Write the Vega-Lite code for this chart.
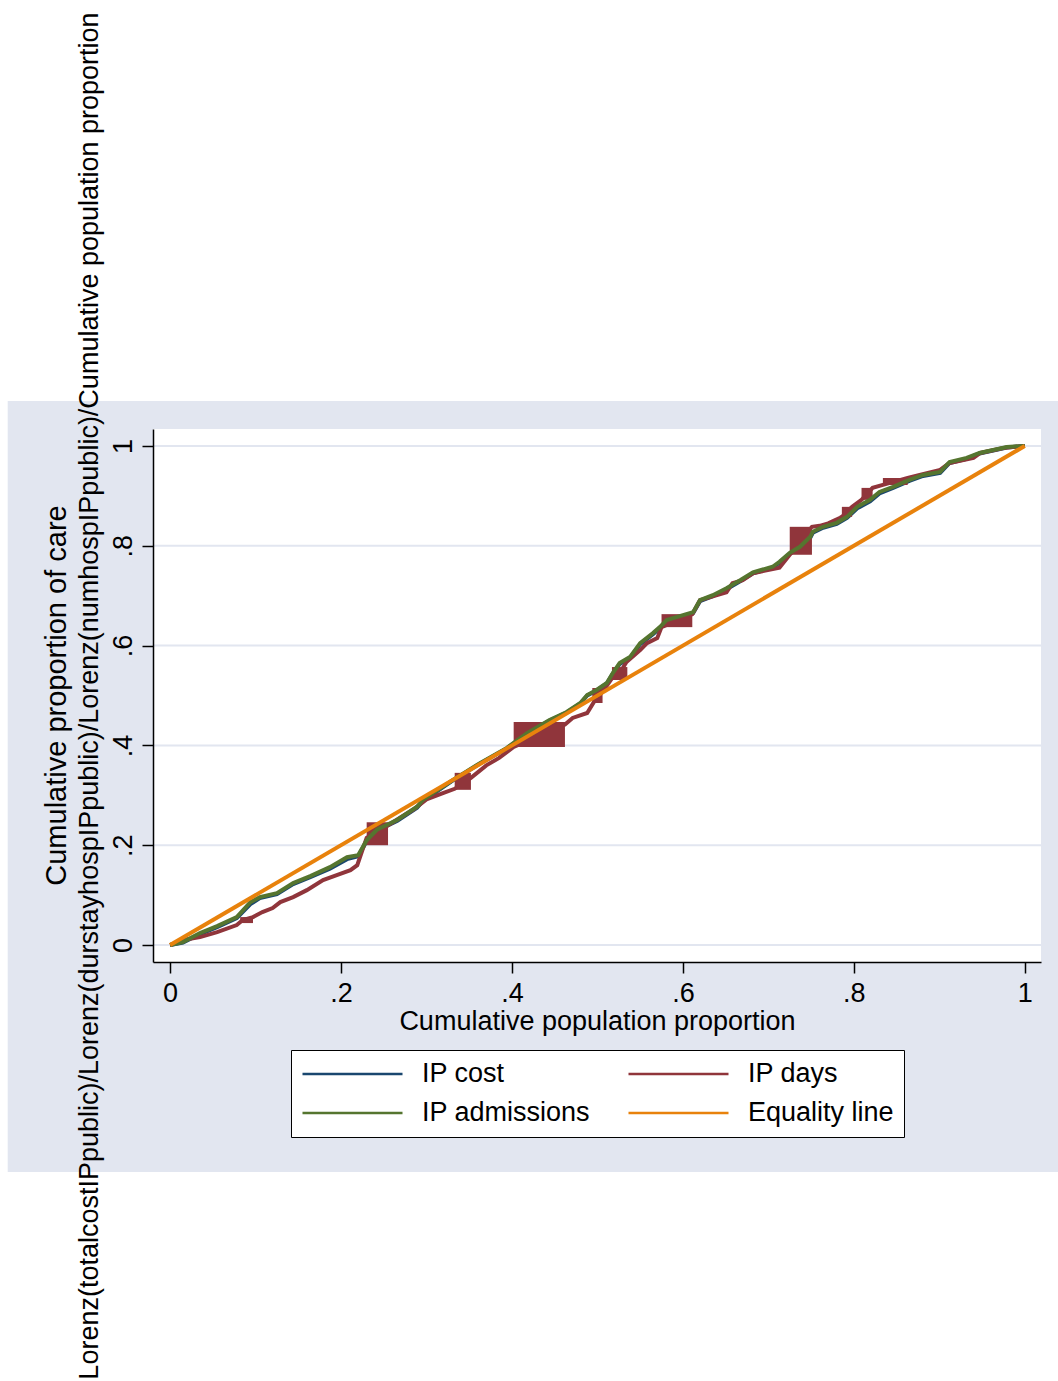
{
  "$schema": "https://vega.github.io/schema/vega-lite/v6.json",
  "width": 888,
  "height": 533,
  "autosize": {"type": "none"},
  "padding": {"left": 153, "top": 429, "right": 17, "bottom": 419},
  "background": "white",
  "config": {"view": {"stroke": null, "fill": "white"}, "font": "Liberation Sans"},
  "title": {"text": "Cumulative proportion of care", "orient": "left", "anchor": "middle", "frame": "group", "fontSize": 29, "font": "Liberation Sans", "fontWeight": "normal", "color": "black", "baseline": "alphabetic", "offset": -87},
  "datasets": {
    "curves": [
      {"series": "IP cost", "x": 0, "y": 0}, {"series": "IP cost", "x": 0.015, "y": 0.005}, {"series": "IP cost", "x": 0.035, "y": 0.022}, {"series": "IP cost", "x": 0.055, "y": 0.036}, {"series": "IP cost", "x": 0.078, "y": 0.054}, {"series": "IP cost", "x": 0.094, "y": 0.082}, {"series": "IP cost", "x": 0.105, "y": 0.094}, {"series": "IP cost", "x": 0.125, "y": 0.102}, {"series": "IP cost", "x": 0.144, "y": 0.122}, {"series": "IP cost", "x": 0.164, "y": 0.136}, {"series": "IP cost", "x": 0.187, "y": 0.153}, {"series": "IP cost", "x": 0.207, "y": 0.172}, {"series": "IP cost", "x": 0.22, "y": 0.178}, {"series": "IP cost", "x": 0.23, "y": 0.208}, {"series": "IP cost", "x": 0.242, "y": 0.229}, {"series": "IP cost", "x": 0.266, "y": 0.249}, {"series": "IP cost", "x": 0.289, "y": 0.275}, {"series": "IP cost", "x": 0.296, "y": 0.289}, {"series": "IP cost", "x": 0.331, "y": 0.33}, {"series": "IP cost", "x": 0.363, "y": 0.364}, {"series": "IP cost", "x": 0.394, "y": 0.394}, {"series": "IP cost", "x": 0.418, "y": 0.424}, {"series": "IP cost", "x": 0.444, "y": 0.45}, {"series": "IP cost", "x": 0.464, "y": 0.466}, {"series": "IP cost", "x": 0.48, "y": 0.484}, {"series": "IP cost", "x": 0.488, "y": 0.5}, {"series": "IP cost", "x": 0.499, "y": 0.51}, {"series": "IP cost", "x": 0.511, "y": 0.524}, {"series": "IP cost", "x": 0.518, "y": 0.544}, {"series": "IP cost", "x": 0.526, "y": 0.563}, {"series": "IP cost", "x": 0.538, "y": 0.575}, {"series": "IP cost", "x": 0.55, "y": 0.603}, {"series": "IP cost", "x": 0.565, "y": 0.623}, {"series": "IP cost", "x": 0.573, "y": 0.635}, {"series": "IP cost", "x": 0.581, "y": 0.649}, {"series": "IP cost", "x": 0.612, "y": 0.665}, {"series": "IP cost", "x": 0.62, "y": 0.689}, {"series": "IP cost", "x": 0.635, "y": 0.699}, {"series": "IP cost", "x": 0.651, "y": 0.713}, {"series": "IP cost", "x": 0.667, "y": 0.729}, {"series": "IP cost", "x": 0.682, "y": 0.745}, {"series": "IP cost", "x": 0.705, "y": 0.756}, {"series": "IP cost", "x": 0.713, "y": 0.766}, {"series": "IP cost", "x": 0.725, "y": 0.784}, {"series": "IP cost", "x": 0.737, "y": 0.796}, {"series": "IP cost", "x": 0.749, "y": 0.816}, {"series": "IP cost", "x": 0.752, "y": 0.826}, {"series": "IP cost", "x": 0.764, "y": 0.836}, {"series": "IP cost", "x": 0.78, "y": 0.844}, {"series": "IP cost", "x": 0.792, "y": 0.856}, {"series": "IP cost", "x": 0.804, "y": 0.875}, {"series": "IP cost", "x": 0.819, "y": 0.889}, {"series": "IP cost", "x": 0.83, "y": 0.905}, {"series": "IP cost", "x": 0.846, "y": 0.916}, {"series": "IP cost", "x": 0.865, "y": 0.93}, {"series": "IP cost", "x": 0.881, "y": 0.94}, {"series": "IP cost", "x": 0.901, "y": 0.946}, {"series": "IP cost", "x": 0.912, "y": 0.966}, {"series": "IP cost", "x": 0.932, "y": 0.974}, {"series": "IP cost", "x": 0.947, "y": 0.985}, {"series": "IP cost", "x": 0.963, "y": 0.991}, {"series": "IP cost", "x": 0.979, "y": 0.997}, {"series": "IP cost", "x": 1, "y": 1},

      {"series": "IP days", "x": 0, "y": 0}, {"series": "IP days", "x": 0.015, "y": 0.01}, {"series": "IP days", "x": 0.035, "y": 0.016}, {"series": "IP days", "x": 0.055, "y": 0.026}, {"series": "IP days", "x": 0.078, "y": 0.04}, {"series": "IP days", "x": 0.085, "y": 0.05}, {"series": "IP days", "x": 0.097, "y": 0.056}, {"series": "IP days", "x": 0.108, "y": 0.066}, {"series": "IP days", "x": 0.12, "y": 0.074}, {"series": "IP days", "x": 0.129, "y": 0.086}, {"series": "IP days", "x": 0.144, "y": 0.096}, {"series": "IP days", "x": 0.16, "y": 0.11}, {"series": "IP days", "x": 0.179, "y": 0.13}, {"series": "IP days", "x": 0.195, "y": 0.14}, {"series": "IP days", "x": 0.211, "y": 0.15}, {"series": "IP days", "x": 0.219, "y": 0.16}, {"series": "IP days", "x": 0.225, "y": 0.19}, {"series": "IP days", "x": 0.23, "y": 0.215}, {"series": "IP days", "x": 0.255, "y": 0.24}, {"series": "IP days", "x": 0.27, "y": 0.256}, {"series": "IP days", "x": 0.285, "y": 0.272}, {"series": "IP days", "x": 0.3, "y": 0.292}, {"series": "IP days", "x": 0.32, "y": 0.305}, {"series": "IP days", "x": 0.333, "y": 0.313}, {"series": "IP days", "x": 0.352, "y": 0.335}, {"series": "IP days", "x": 0.37, "y": 0.36}, {"series": "IP days", "x": 0.385, "y": 0.375}, {"series": "IP days", "x": 0.402, "y": 0.397}, {"series": "IP days", "x": 0.462, "y": 0.442}, {"series": "IP days", "x": 0.471, "y": 0.455}, {"series": "IP days", "x": 0.488, "y": 0.465}, {"series": "IP days", "x": 0.497, "y": 0.49}, {"series": "IP days", "x": 0.507, "y": 0.51}, {"series": "IP days", "x": 0.518, "y": 0.537}, {"series": "IP days", "x": 0.526, "y": 0.545}, {"series": "IP days", "x": 0.534, "y": 0.567}, {"series": "IP days", "x": 0.55, "y": 0.591}, {"series": "IP days", "x": 0.558, "y": 0.605}, {"series": "IP days", "x": 0.57, "y": 0.615}, {"series": "IP days", "x": 0.575, "y": 0.637}, {"series": "IP days", "x": 0.611, "y": 0.663}, {"series": "IP days", "x": 0.62, "y": 0.691}, {"series": "IP days", "x": 0.628, "y": 0.695}, {"series": "IP days", "x": 0.651, "y": 0.707}, {"series": "IP days", "x": 0.658, "y": 0.725}, {"series": "IP days", "x": 0.67, "y": 0.731}, {"series": "IP days", "x": 0.682, "y": 0.745}, {"series": "IP days", "x": 0.69, "y": 0.748}, {"series": "IP days", "x": 0.713, "y": 0.756}, {"series": "IP days", "x": 0.725, "y": 0.782}, {"series": "IP days", "x": 0.751, "y": 0.838}, {"series": "IP days", "x": 0.76, "y": 0.84}, {"series": "IP days", "x": 0.77, "y": 0.845}, {"series": "IP days", "x": 0.784, "y": 0.856}, {"series": "IP days", "x": 0.786, "y": 0.858}, {"series": "IP days", "x": 0.798, "y": 0.878}, {"series": "IP days", "x": 0.809, "y": 0.892}, {"series": "IP days", "x": 0.822, "y": 0.916}, {"series": "IP days", "x": 0.834, "y": 0.922}, {"series": "IP days", "x": 0.863, "y": 0.936}, {"series": "IP days", "x": 0.877, "y": 0.942}, {"series": "IP days", "x": 0.901, "y": 0.952}, {"series": "IP days", "x": 0.912, "y": 0.966}, {"series": "IP days", "x": 0.94, "y": 0.976}, {"series": "IP days", "x": 0.948, "y": 0.986}, {"series": "IP days", "x": 0.975, "y": 0.996}, {"series": "IP days", "x": 1, "y": 1},

      {"series": "IP admissions", "x": 0, "y": 0}, {"series": "IP admissions", "x": 0.015, "y": 0.006}, {"series": "IP admissions", "x": 0.035, "y": 0.024}, {"series": "IP admissions", "x": 0.055, "y": 0.038}, {"series": "IP admissions", "x": 0.078, "y": 0.056}, {"series": "IP admissions", "x": 0.094, "y": 0.086}, {"series": "IP admissions", "x": 0.105, "y": 0.096}, {"series": "IP admissions", "x": 0.125, "y": 0.104}, {"series": "IP admissions", "x": 0.144, "y": 0.124}, {"series": "IP admissions", "x": 0.164, "y": 0.138}, {"series": "IP admissions", "x": 0.187, "y": 0.156}, {"series": "IP admissions", "x": 0.207, "y": 0.176}, {"series": "IP admissions", "x": 0.22, "y": 0.18}, {"series": "IP admissions", "x": 0.23, "y": 0.21}, {"series": "IP admissions", "x": 0.242, "y": 0.231}, {"series": "IP admissions", "x": 0.266, "y": 0.251}, {"series": "IP admissions", "x": 0.289, "y": 0.277}, {"series": "IP admissions", "x": 0.296, "y": 0.291}, {"series": "IP admissions", "x": 0.331, "y": 0.331}, {"series": "IP admissions", "x": 0.363, "y": 0.365}, {"series": "IP admissions", "x": 0.394, "y": 0.395}, {"series": "IP admissions", "x": 0.418, "y": 0.425}, {"series": "IP admissions", "x": 0.444, "y": 0.451}, {"series": "IP admissions", "x": 0.464, "y": 0.467}, {"series": "IP admissions", "x": 0.48, "y": 0.485}, {"series": "IP admissions", "x": 0.488, "y": 0.501}, {"series": "IP admissions", "x": 0.499, "y": 0.511}, {"series": "IP admissions", "x": 0.511, "y": 0.525}, {"series": "IP admissions", "x": 0.518, "y": 0.545}, {"series": "IP admissions", "x": 0.526, "y": 0.565}, {"series": "IP admissions", "x": 0.538, "y": 0.577}, {"series": "IP admissions", "x": 0.55, "y": 0.605}, {"series": "IP admissions", "x": 0.565, "y": 0.625}, {"series": "IP admissions", "x": 0.573, "y": 0.637}, {"series": "IP admissions", "x": 0.581, "y": 0.651}, {"series": "IP admissions", "x": 0.612, "y": 0.667}, {"series": "IP admissions", "x": 0.62, "y": 0.691}, {"series": "IP admissions", "x": 0.635, "y": 0.701}, {"series": "IP admissions", "x": 0.651, "y": 0.715}, {"series": "IP admissions", "x": 0.667, "y": 0.731}, {"series": "IP admissions", "x": 0.682, "y": 0.747}, {"series": "IP admissions", "x": 0.705, "y": 0.758}, {"series": "IP admissions", "x": 0.713, "y": 0.768}, {"series": "IP admissions", "x": 0.725, "y": 0.786}, {"series": "IP admissions", "x": 0.737, "y": 0.798}, {"series": "IP admissions", "x": 0.749, "y": 0.818}, {"series": "IP admissions", "x": 0.752, "y": 0.828}, {"series": "IP admissions", "x": 0.764, "y": 0.838}, {"series": "IP admissions", "x": 0.78, "y": 0.846}, {"series": "IP admissions", "x": 0.792, "y": 0.858}, {"series": "IP admissions", "x": 0.804, "y": 0.878}, {"series": "IP admissions", "x": 0.819, "y": 0.892}, {"series": "IP admissions", "x": 0.83, "y": 0.908}, {"series": "IP admissions", "x": 0.846, "y": 0.918}, {"series": "IP admissions", "x": 0.865, "y": 0.932}, {"series": "IP admissions", "x": 0.881, "y": 0.942}, {"series": "IP admissions", "x": 0.901, "y": 0.948}, {"series": "IP admissions", "x": 0.912, "y": 0.968}, {"series": "IP admissions", "x": 0.932, "y": 0.976}, {"series": "IP admissions", "x": 0.947, "y": 0.986}, {"series": "IP admissions", "x": 0.963, "y": 0.992}, {"series": "IP admissions", "x": 0.979, "y": 0.998}, {"series": "IP admissions", "x": 1, "y": 1},

      {"series": "Equality line", "x": 0, "y": 0}, {"series": "Equality line", "x": 1, "y": 1}
    ],
    "blocks": [
      {"x0": 0.082, "x1": 0.097, "y0": 0.044, "y1": 0.056},
      {"x0": 0.23, "x1": 0.255, "y0": 0.2, "y1": 0.246},
      {"x0": 0.333, "x1": 0.352, "y0": 0.311, "y1": 0.345},
      {"x0": 0.402, "x1": 0.462, "y0": 0.397, "y1": 0.447},
      {"x0": 0.494, "x1": 0.506, "y0": 0.485, "y1": 0.515},
      {"x0": 0.517, "x1": 0.535, "y0": 0.531, "y1": 0.557},
      {"x0": 0.575, "x1": 0.611, "y0": 0.637, "y1": 0.663},
      {"x0": 0.725, "x1": 0.751, "y0": 0.782, "y1": 0.838},
      {"x0": 0.786, "x1": 0.798, "y0": 0.858, "y1": 0.878},
      {"x0": 0.809, "x1": 0.822, "y0": 0.892, "y1": 0.916},
      {"x0": 0.834, "x1": 0.863, "y0": 0.922, "y1": 0.936}
    ],
    "grid": [{"g": 0}, {"g": 0.2}, {"g": 0.4}, {"g": 0.6}, {"g": 0.8}, {"g": 1}]
  },
  "layer": [
    {
      "data": {"values": [{}]},
      "mark": {"type": "rect", "color": "#e2e6f0"},
      "encoding": {
        "x": {"datum": -0.19, "type": "quantitative", "scale": {"domain": [-0.02, 1.019], "nice": false, "zero": false},
          "axis": {"values": [0, 0.2, 0.4, 0.6, 0.8, 1], "labelExpr": "replace(toString(datum.value), /^0\\./, '.')", "grid": false, "zindex": 1,
            "domainColor": "black", "domainWidth": 1.5, "tickColor": "black", "tickSize": 11, "tickWidth": 1.5,
            "labelFont": "Liberation Sans", "labelFontSize": 27, "labelColor": "black", "labelPadding": 7, "labelFlush": false, "labelBaseline": "top",
            "title": "Cumulative population proportion", "titleFont": "Liberation Sans", "titleFontSize": 27, "titleFontWeight": "normal", "titleColor": "black",
            "titleBaseline": "alphabetic", "titleY": 67, "titleX": 444, "titleAlign": "center"}},
        "x2": {"datum": 1.06},
        "y": {"datum": 1.09, "type": "quantitative", "scale": {"domain": [-0.034, 1.034], "nice": false, "zero": false},
          "axis": {"values": [0, 0.2, 0.4, 0.6, 0.8, 1], "labelExpr": "replace(toString(datum.value), /^0\\./, '.')", "grid": false, "zindex": 1,
            "domainColor": "black", "domainWidth": 1.5, "tickColor": "black", "tickSize": 11, "tickWidth": 1.5,
            "labelFont": "Liberation Sans", "labelFontSize": 27, "labelColor": "black", "labelPadding": 5, "labelFlush": false,
            "labelAngle": -90, "labelAlign": "center", "labelBaseline": "bottom",
            "title": "Lorenz(totalcostIPpublic)/Lorenz(durstayhospIPpublic)/Lorenz(numhospIPpublic)/Cumulative population proportion",
            "titleFont": "Liberation Sans", "titleFontSize": 27, "titleFontWeight": "normal", "titleColor": "black", "titleLimit": 3000,
            "titleAngle": -90, "titleAlign": "center", "titleBaseline": "alphabetic", "titleX": -56, "titleY": 266.5}},
        "y2": {"datum": -0.455}
      }
    },
    {
      "data": {"values": [{}]},
      "mark": {"type": "rect", "color": "white"},
      "encoding": {
        "x": {"datum": -0.02, "type": "quantitative", "scale": {"domain": [-0.02, 1.019], "nice": false, "zero": false}},
        "x2": {"datum": 1.019},
        "y": {"datum": 1.034, "type": "quantitative", "scale": {"domain": [-0.034, 1.034], "nice": false, "zero": false}},
        "y2": {"datum": -0.034}
      }
    },
    {
      "data": {"name": "grid"},
      "mark": {"type": "rule", "color": "#e2e6f0", "strokeWidth": 2},
      "encoding": {
        "x": {"datum": -0.02, "type": "quantitative", "scale": {"domain": [-0.02, 1.019], "nice": false, "zero": false}},
        "x2": {"datum": 1.019},
        "y": {"field": "g", "type": "quantitative", "scale": {"domain": [-0.034, 1.034], "nice": false, "zero": false}}
      }
    },
    {
      "data": {"name": "curves"},
      "transform": [{"filter": "datum.series === 'IP cost'"}],
      "mark": {"type": "line", "strokeWidth": 4},
      "encoding": {
        "x": {"field": "x", "type": "quantitative", "scale": {"domain": [-0.02, 1.019], "nice": false, "zero": false}},
        "y": {"field": "y", "type": "quantitative", "scale": {"domain": [-0.034, 1.034], "nice": false, "zero": false}},
        "color": {"field": "series", "type": "nominal",
          "scale": {"domain": ["IP cost", "IP admissions", "IP days", "Equality line"], "range": ["#1a476f", "#55752f", "#90353b", "#e8820c"]},
          "legend": {"title": null, "orient": "none", "legendX": 138, "legendY": 621, "columns": 2, "fillColor": "white", "strokeColor": "black",
            "padding": 10, "cornerRadius": 0, "symbolType": "stroke", "symbolSize": 10000, "symbolStrokeWidth": 2.5, "symbolOpacity": 1,
            "labelFont": "Liberation Sans", "labelFontSize": 27, "labelColor": "black", "labelOffset": 18, "labelLimit": 500,
            "columnPadding": 36, "rowPadding": 11, "clipHeight": 28}},
        "order": {"value": null}
      }
    },
    {
      "data": {"name": "curves"},
      "transform": [{"filter": "datum.series === 'IP days'"}],
      "mark": {"type": "line", "strokeWidth": 4},
      "encoding": {
        "x": {"field": "x", "type": "quantitative", "scale": {"domain": [-0.02, 1.019], "nice": false, "zero": false}},
        "y": {"field": "y", "type": "quantitative", "scale": {"domain": [-0.034, 1.034], "nice": false, "zero": false}},
        "color": {"field": "series", "type": "nominal", "scale": {"domain": ["IP cost", "IP admissions", "IP days", "Equality line"], "range": ["#1a476f", "#55752f", "#90353b", "#e8820c"]}},
        "order": {"value": null}
      }
    },
    {
      "data": {"name": "blocks"},
      "mark": {"type": "rect", "color": "#90353b"},
      "encoding": {
        "x": {"field": "x0", "type": "quantitative", "scale": {"domain": [-0.02, 1.019], "nice": false, "zero": false}},
        "x2": {"field": "x1"},
        "y": {"field": "y0", "type": "quantitative", "scale": {"domain": [-0.034, 1.034], "nice": false, "zero": false}},
        "y2": {"field": "y1"}
      }
    },
    {
      "data": {"name": "curves"},
      "transform": [{"filter": "datum.series === 'IP admissions'"}],
      "mark": {"type": "line", "strokeWidth": 4},
      "encoding": {
        "x": {"field": "x", "type": "quantitative", "scale": {"domain": [-0.02, 1.019], "nice": false, "zero": false}},
        "y": {"field": "y", "type": "quantitative", "scale": {"domain": [-0.034, 1.034], "nice": false, "zero": false}},
        "color": {"field": "series", "type": "nominal", "scale": {"domain": ["IP cost", "IP admissions", "IP days", "Equality line"], "range": ["#1a476f", "#55752f", "#90353b", "#e8820c"]}},
        "order": {"value": null}
      }
    },
    {
      "data": {"name": "curves"},
      "transform": [{"filter": "datum.series === 'Equality line'"}],
      "mark": {"type": "line", "strokeWidth": 4},
      "encoding": {
        "x": {"field": "x", "type": "quantitative", "scale": {"domain": [-0.02, 1.019], "nice": false, "zero": false}},
        "y": {"field": "y", "type": "quantitative", "scale": {"domain": [-0.034, 1.034], "nice": false, "zero": false}},
        "color": {"field": "series", "type": "nominal", "scale": {"domain": ["IP cost", "IP admissions", "IP days", "Equality line"], "range": ["#1a476f", "#55752f", "#90353b", "#e8820c"]}},
        "order": {"value": null}
      }
    }
  ]
}
